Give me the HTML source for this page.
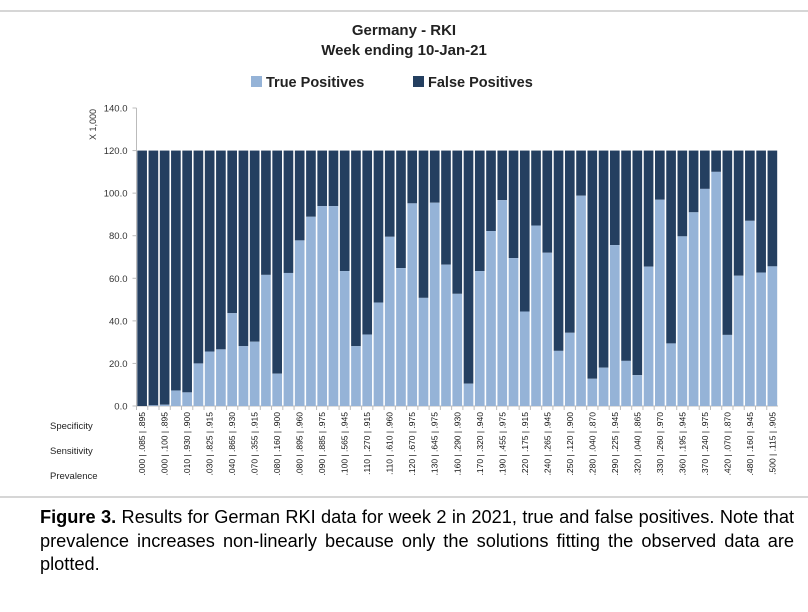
<!DOCTYPE html>
<html><head><meta charset="utf-8"><style>
body{margin:0;width:808px;height:612px;background:#fff;font-family:"Liberation Sans",sans-serif;overflow:hidden;position:relative}
.cap{position:absolute;left:40px;top:506px;width:754px;font-size:18.2px;line-height:23.5px;text-align:justify;color:#000}
</style></head><body>
<svg id="chart" width="808" height="500" style="position:absolute;left:0;top:0" font-family="Liberation Sans, sans-serif">
<line x1="0" y1="11" x2="808" y2="11" stroke="#c8c8c8" stroke-width="1.5"/>
<line x1="0" y1="497" x2="808" y2="497" stroke="#c8c8c8" stroke-width="1.5"/>
<text x="404" y="35" text-anchor="middle" font-size="15" font-weight="bold" fill="#222">Germany - RKI</text>
<text x="404" y="55" text-anchor="middle" font-size="15" font-weight="bold" fill="#222">Week ending 10-Jan-21</text>
<g>
<rect x="251" y="76" width="11" height="11" fill="#95b3d7"/>
<text x="266" y="87" font-size="14.5" font-weight="bold" fill="#222">True Positives</text>
<rect x="413" y="76" width="11" height="11" fill="#243f60"/>
<text x="428" y="87" font-size="14.5" font-weight="bold" fill="#222">False Positives</text>
</g>
<text transform="translate(96,140) rotate(-90)" font-size="9" fill="#333">X 1,000</text>
<text x="50" y="429" font-size="9.5" fill="#222">Specificity</text>
<text x="50" y="454" font-size="9.5" fill="#222">Sensitivity</text>
<text x="50" y="479" font-size="9.5" fill="#222">Prevalence</text>
<g id="plot"></g>
</svg>
<div class="cap"><b>Figure 3.</b> Results for German RKI data for week 2 in 2021, true and false positives. Note that prevalence increases non-linearly because only the solutions fitting the observed data are plotted.</div>
<script>
const truePos=[0,0.3,0.6,7.3,6.4,20,25.6,26.6,43.6,28.1,30.2,61.6,15.2,62.5,77.8,88.9,93.9,93.9,63.4,28.1,33.6,48.6,79.5,64.8,95.2,50.8,95.5,66.4,52.7,10.5,63.4,82.2,96.7,69.5,44.4,84.8,72,25.9,34.4,98.8,12.8,18,75.6,21.2,14.5,65.5,96.9,29.4,79.7,91,102,110,33.4,61.2,87,62.7,65.6];
const totals=truePos.map(()=>120);
const labels=[".000 | .085 | .895",".000 | .100 | .895",".010 | .930 | .900",".030 | .825 | .915",".040 | .865 | .930",".070 | .355 | .915",".080 | .160 | .900",".080 | .895 | .960",".090 | .885 | .975",".100 | .565 | .945",".110 | .270 | .915",".110 | .610 | .960",".120 | .670 | .975",".130 | .645 | .975",".160 | .290 | .930",".170 | .320 | .940",".190 | .455 | .975",".220 | .175 | .915",".240 | .265 | .945",".250 | .120 | .900",".280 | .040 | .870",".290 | .225 | .945",".320 | .040 | .865",".330 | .260 | .970",".360 | .195 | .945",".370 | .240 | .975",".420 | .070 | .870",".480 | .160 | .945",".500 | .115 | .905"];
const yTicks=[0,20,40,60,80,100,120,140];
const NS="http://www.w3.org/2000/svg",g=document.getElementById('plot');
const X0=136.5,X1=778,Y0=406,YT=108,YMAX=140;
const n=truePos.length,pitch=(X1-X0)/n;
const y=v=>Y0-(v/YMAX)*(Y0-YT);
const x=i=>X0+i*pitch;
function mk(t,a){const e=document.createElementNS(NS,t);for(const k in a)e.setAttribute(k,a[k]);g.appendChild(e);return e;}
let ax=mk('line',{x1:X0,y1:YT,x2:X0,y2:Y0,stroke:'#bbb'});


let bx=mk('line',{x1:X0,y1:Y0,x2:X1,y2:Y0,stroke:'#bbb'});


yTicks.forEach(v=>{
 let tk=mk('line',{x1:X0-4,y1:y(v),x2:X0,y2:y(v),stroke:'#bbb'});
 
 
 let t=mk('text',{x:X0-9,y:y(v)+3.5,'text-anchor':'end','font-size':'9.5',fill:'#333'});
 t.textContent=v.toFixed(1);
 
 
});
truePos.forEach((v,i)=>{
 const bw=pitch-1.6,bxp=x(i)+0.8;
 let f=mk('rect',{x:bxp,y:y(totals[i]),width:bw,height:y(v)-y(totals[i]),fill:'#243f60'});
 
 
 let tr=mk('rect',{x:bxp,y:y(v),width:bw,height:Y0-y(v),fill:'#95b3d7'});
 
 
 let tk=mk('line',{x1:x(i),y1:Y0,x2:x(i),y2:Y0+4,stroke:'#bbb'});
 
 
});
labels.forEach((s,j)=>{
 const cx=x(j*2)+pitch/2+3;
 let t=mk('text',{transform:`translate(${cx},412) rotate(-90)`,'text-anchor':'end','font-size':'8.5',fill:'#111'});
 t.textContent=s;
 
 
});
</script>
</body></html>
